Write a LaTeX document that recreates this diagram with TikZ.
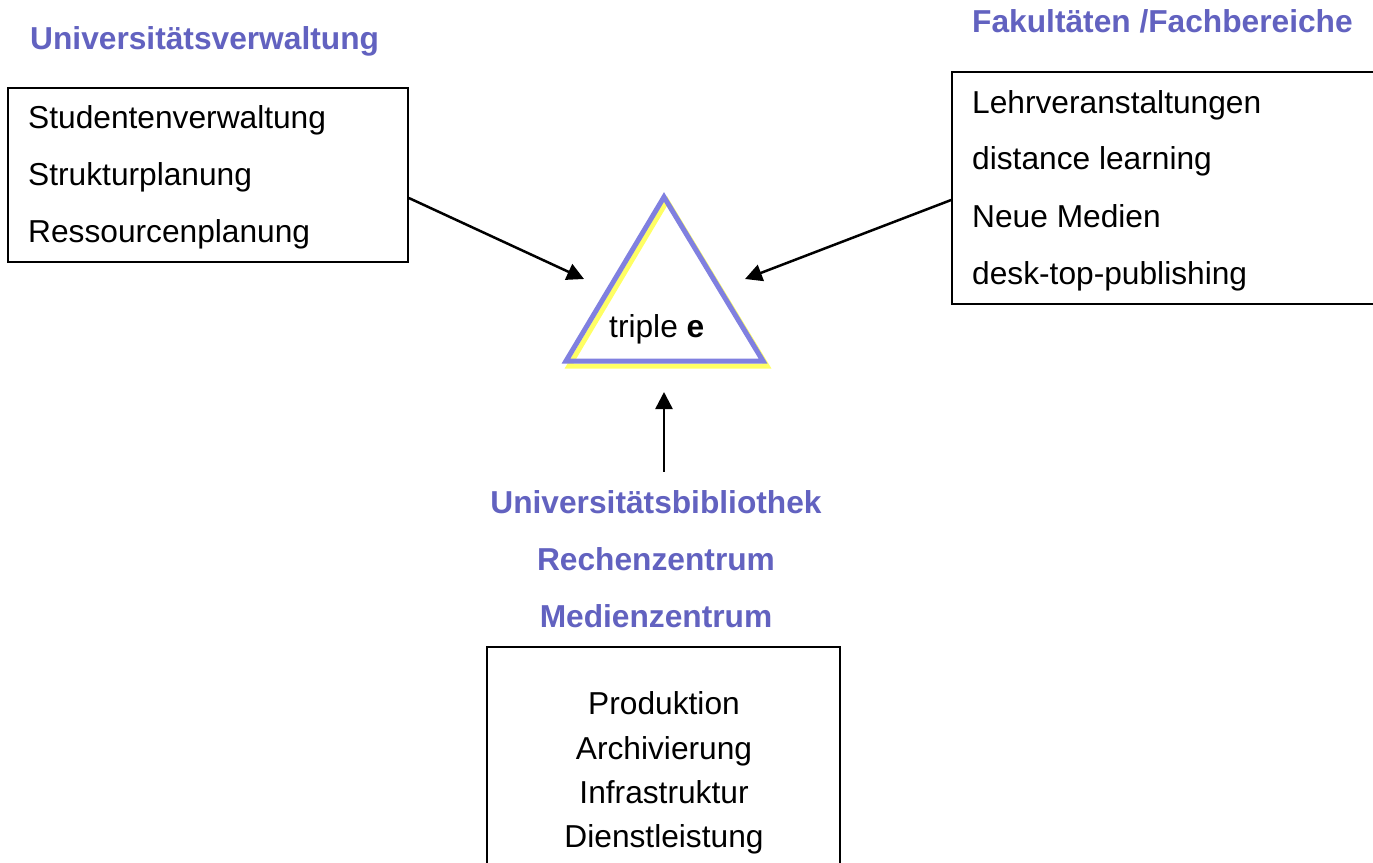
\documentclass[tikz,border=0pt]{standalone}
\usepackage{fontspec}
\setmainfont{Liberation Sans}
\usetikzlibrary{arrows.meta}
\definecolor{headblue}{RGB}{98,98,192}
\definecolor{triblue}{RGB}{128,128,224}
\definecolor{triyellow}{RGB}{255,255,100}
\tikzset{
  txt/.style={anchor=base west, inner sep=0pt, font=\fontsize{31.7}{38}\selectfont},
  ctxt/.style={anchor=base, inner sep=0pt, font=\fontsize{31.7}{38}\selectfont},
  head/.style={anchor=base west, inner sep=0pt, text=headblue, font=\fontsize{31.7}{38}\selectfont\bfseries},
  chead/.style={anchor=base, inner sep=0pt, text=headblue, font=\fontsize{31.7}{38}\selectfont\bfseries},
  box/.style={draw=black, line width=1.7pt, rectangle, inner sep=0pt},
  arr/.style={draw=black, line width=2.5pt, -{Triangle[length=17pt,width=17pt]}},
  tri/.style={line width=5pt, line join=miter, miter limit=20},
}
\begin{document}
\begin{tikzpicture}[x=1pt,y=-1pt]
\useasboundingbox (0,0) rectangle (1373,862);
\clip (0,0) rectangle (1373,862);
\fill[white] (0,0) rectangle (1373,862);

% headings
\node[head] (hUV) at (30,49) {Universitätsverwaltung};
\node[head] (hFF) at (972,32) {Fakultäten /Fachbereiche};
\node[chead] (hUB) at (656,513) {Universitätsbibliothek};
\node[chead] (hRZ) at (656,570) {Rechenzentrum};
\node[chead] (hMZ) at (656,627) {Medienzentrum};

% boxes
\node[box, minimum width=400pt, minimum height=174pt] (lbox) at (208,175) {};
\node[box, minimum width=460pt, minimum height=232pt] (rbox) at (1182,188) {};
\node[box, minimum width=353pt, minimum height=273pt] (bbox) at (663.5,783.5) {};

% left box text
\node[txt] (l1) at (28,128) {Studentenverwaltung};
\node[txt] (l2) at (28,185) {Strukturplanung};
\node[txt] (l3) at (28,242) {Ressourcenplanung};

% right box text
\node[txt] (r1) at (972,113) {Lehrveranstaltungen};
\node[txt] (r2) at (972,169) {distance learning};
\node[txt] (r3) at (972,227) {Neue Medien};
\node[txt] (r4) at (972,284) {desk-top-publishing};

% bottom box text
\node[ctxt] (b1) at (664,714) {Produktion};
\node[ctxt] (b2) at (664,759) {Archivierung};
\node[ctxt] (b3) at (664,803) {Infrastruktur};
\node[ctxt] (b4) at (664,847) {Dienstleistung};

% triangle
\draw[tri, draw=triyellow] (667,201) -- (767,366) -- (569,366) -- cycle;
\draw[tri, draw=triblue] (664,197) -- (763,361) -- (566,361) -- cycle;
\coordinate (triL) at (584,279);
\coordinate (triR) at (745,279);
\coordinate (triB) at (664,392);
\node[anchor=base west, inner sep=0pt, font=\fontsize{31.7}{38}\selectfont] (tlabel) at (609,337) {triple \textbf{e}};

% connectors
\coordinate (ls) at (0,198);
\coordinate (rs) at (0,200);
\draw[arr] (lbox.east |- ls) -- (triL);
\draw[arr] (rbox.west |- rs) -- (triR);
\draw[arr] (hUB.north -| triB) ++(0,-18) -- (triB);
\end{tikzpicture}
\end{document}
